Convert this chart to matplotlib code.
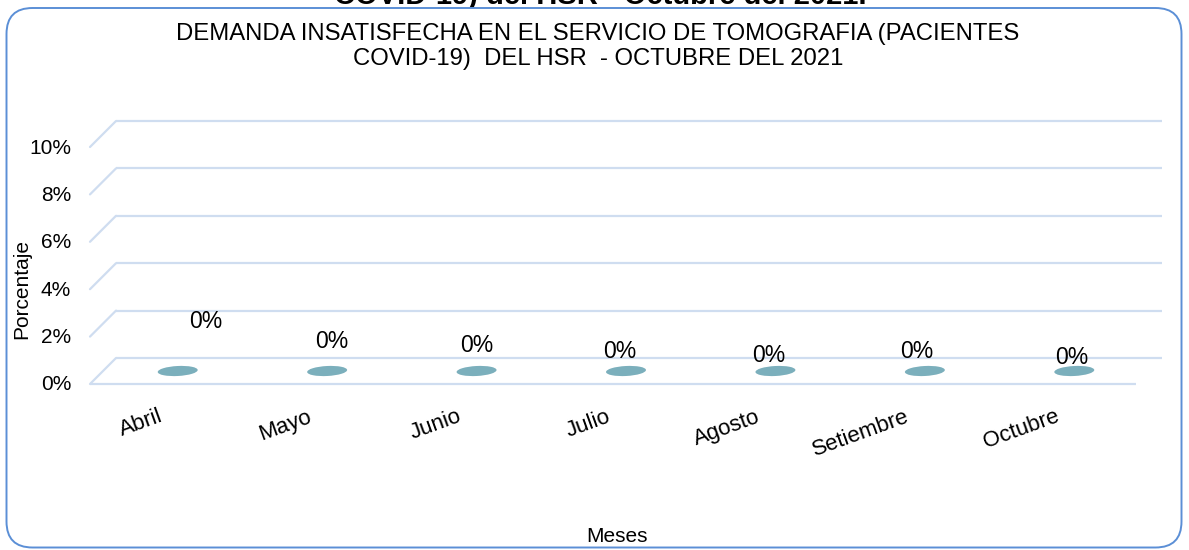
import matplotlib
matplotlib.use("Agg")
import matplotlib.pyplot as plt
import matplotlib.transforms as mtransforms
from matplotlib.patches import FancyBboxPatch
from matplotlib.collections import EllipseCollection

plt.rcParams["font.family"] = ["Liberation Sans", "DejaVu Sans"]

# ---- data ----
meses = ["Abril", "Mayo", "Junio", "Julio", "Agosto", "Setiembre", "Octubre"]
porcentaje = [0.0, 0.0, 0.0, 0.0, 0.0, 0.0, 0.0]
y_ticks = [0.0, 0.02, 0.04, 0.06, 0.08, 0.10]

titulo = ("DEMANDA INSATISFECHA EN EL SERVICIO DE TOMOGRAFIA (PACIENTES\n"
          "COVID-19)  DEL HSR  - OCTUBRE DEL 2021")
encabezado = "COVID-19) del HSR - Octubre del 2021."

# per-label nudges (pixels, x right / y up) for the value labels
label_nudge = [(28, 49), (5, 30), (0, 25), (-6, 19), (-7, 16), (-8, 19), (-3, 13)]

# ---- style ----
W, H, DPI = 1189, 550, 100
grid_color = "#CFDDF0"
bar_color = "#7BAFBC"
frame_color = "#5B8FD6"
DEPTH = 26  # pixels of the oblique floor depth

fig = plt.figure(figsize=(W / DPI, H / DPI), dpi=DPI)
fig.patch.set_facecolor("white")


def shift(dx, dy):
    return mtransforms.ScaledTranslation(dx / DPI, dy / DPI, fig.dpi_scale_trans)


# heading of the surrounding document, partly hidden behind the chart frame
fig.text(600 / W, 1 - 4 / H, encabezado, ha="center", va="baseline",
         fontsize=21, fontweight="bold", color="black", zorder=-2)

frame = FancyBboxPatch((6.5, 2.5), 1175, 539.5,
                       boxstyle="round,pad=0,rounding_size=26",
                       transform=mtransforms.IdentityTransform(),
                       facecolor="white", edgecolor=frame_color, linewidth=1.4,
                       zorder=-1)
fig.add_artist(frame)

ax = fig.add_axes([116 / W, 192 / H, 1046 / W, 237 / H])
ax.set_xlim(-0.5, len(meses) - 0.5)
ax.set_ylim(0, 0.10)
ax.axis("off")
xmin, xmax = ax.get_xlim()

# back wall gridlines and their oblique returns to the front
for t in y_ticks:
    ax.plot([xmin, xmax], [t, t], color=grid_color, lw=1.6, clip_on=False,
            solid_capstyle="butt")
    ax.annotate("", xy=(xmin, t), xycoords="data",
                xytext=(-DEPTH, -DEPTH), textcoords="offset pixels",
                arrowprops=dict(arrowstyle="-", color=grid_color, lw=1.6,
                                shrinkA=0, shrinkB=0),
                annotation_clip=False)
    ax.annotate(f"{t:.0%}", xy=(xmin, t), xycoords="data",
                xytext=(-DEPTH - 19, -DEPTH - 1), textcoords="offset pixels",
                ha="right", va="center", fontsize=15, annotation_clip=False)

# front edge of the floor
ax.plot([xmin, xmax], [0, 0], color=grid_color, lw=1.6, clip_on=False,
        transform=ax.transData + shift(-DEPTH, -DEPTH), solid_capstyle="butt")

# flat bar tops (zero-height bars) at mid depth
xs = list(range(len(meses)))
bars = EllipseCollection([40] * len(xs), [10] * len(xs), [3] * len(xs),
                         units="dots",
                         offsets=list(zip(xs, porcentaje)),
                         offset_transform=ax.transData + shift(-DEPTH / 2, -DEPTH / 2),
                         facecolors=bar_color, edgecolors="none")
bars.set_clip_on(False)
ax.add_collection(bars, autolim=False)

# value labels
for x, v, (nx, ny) in zip(xs, porcentaje, label_nudge):
    ax.annotate(f"{v:.0%}", xy=(x, v), xycoords="data",
                xytext=(-DEPTH / 2 + nx, -DEPTH / 2 + ny),
                textcoords="offset pixels", ha="center", va="center",
                fontsize=16.5, annotation_clip=False)

# category labels
for x, m in zip(xs, meses):
    ax.text(x, 0, m, rotation=20, rotation_mode="anchor", ha="right",
            va="center", fontsize=16,
            transform=ax.transData + shift(-DEPTH - 3, -58))

fig.text(598 / W, 1 - 46.5 / H, titulo, ha="center", va="center",
         fontsize=17.2, linespacing=1.15)
fig.text(22 / W, 1 - 289 / H, "Porcentaje", rotation=90, ha="center",
         va="center", fontsize=15)
fig.text(617 / W, 1 - 537 / H, "Meses", ha="center", va="center", fontsize=15)

fig.savefig("out.png", dpi=DPI, facecolor="white")
